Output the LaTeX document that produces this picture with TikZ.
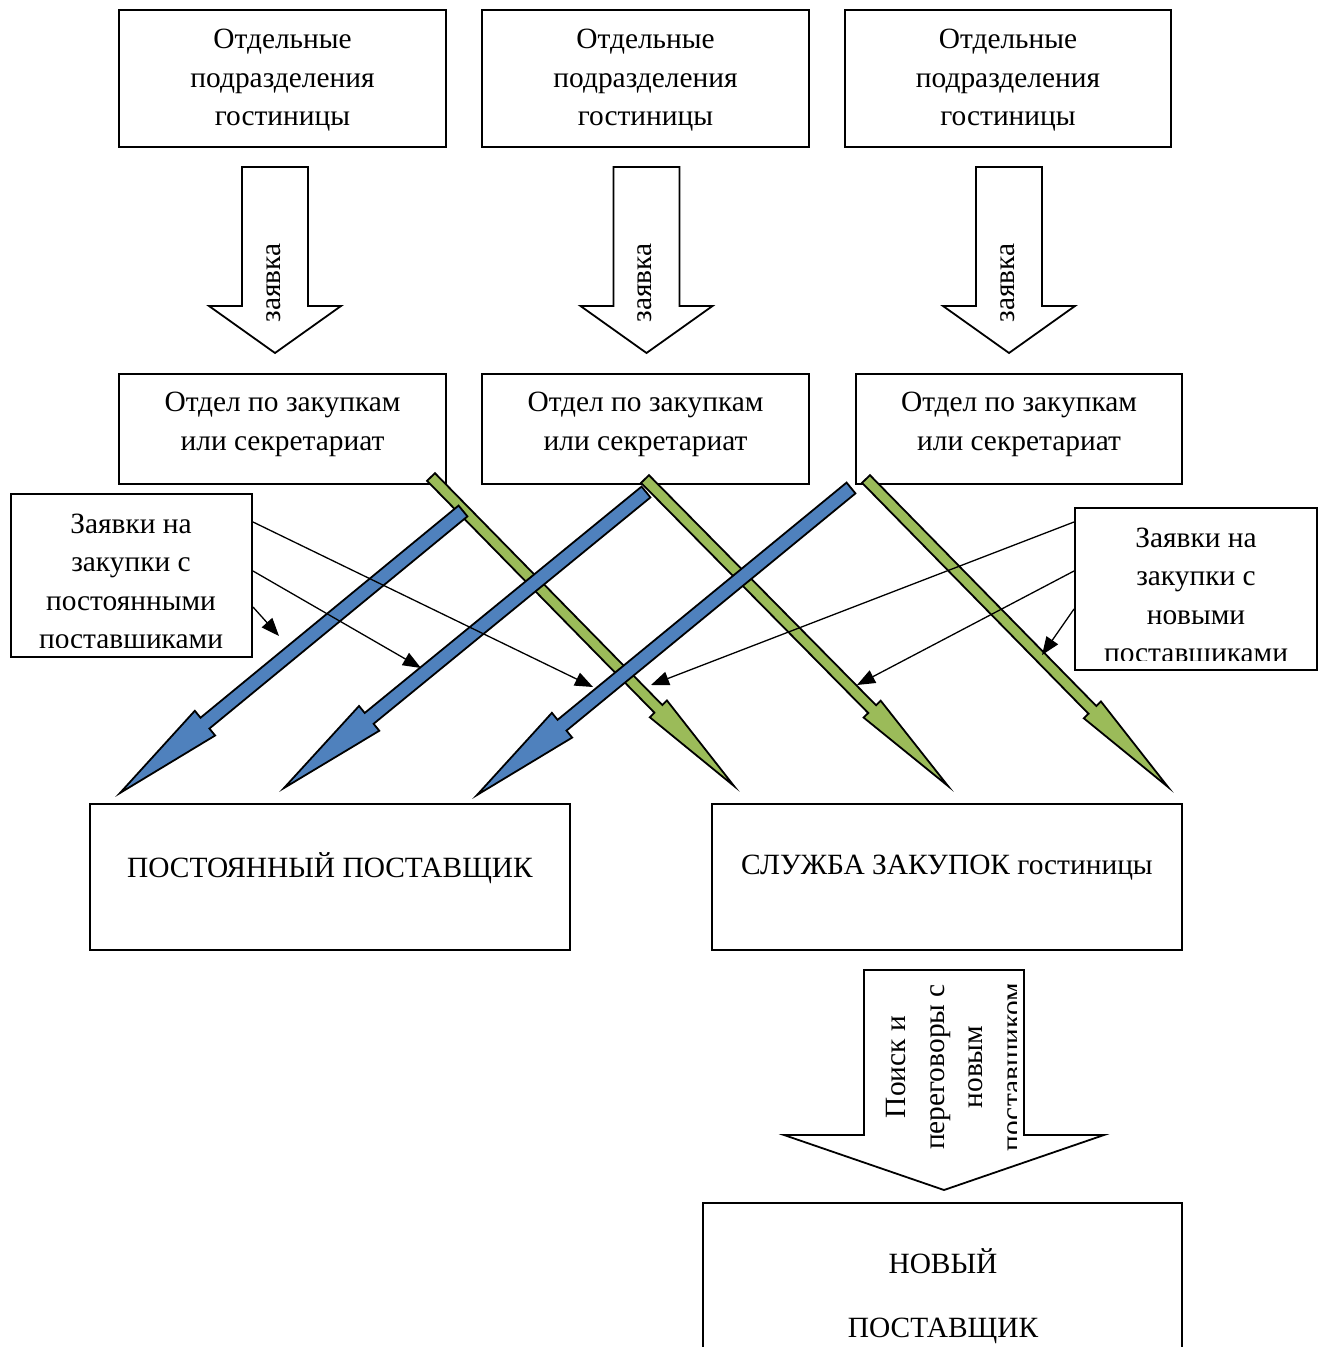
\documentclass[tikz,border=0pt]{standalone}
\usepackage{fontspec}
\setmainfont{Liberation Serif}
\usetikzlibrary{calc,arrows.meta}

\definecolor{arrblue}{HTML}{4F81BD}
\definecolor{arrgreen}{HTML}{9BBB59}

% block arrow: [style]{tail}{tip}{half shaft}{half head}{head length}
\newcommand{\blockarrow}[6][]{%
  \coordinate (hb) at ($(#3)!#6!(#2)$);
  \filldraw[#1] ($(#2)!#4!90:(#3)$) -- ($(hb)!#4!90:(#3)$) -- ($(hb)!#5!90:(#3)$) -- (#3)
    -- ($(hb)!#5!-90:(#3)$) -- ($(hb)!#4!-90:(#3)$) -- ($(#2)!#4!-90:(#3)$) -- cycle;
}

\begin{document}
\begin{tikzpicture}[x=0.5pt,y=-0.5pt]
	\tikzstyle{Box} = [draw, line width=1pt, inner sep=0pt]
	\tikzstyle{Txt} = [align=center, inner sep=0pt, font=\fontsize{14.7}{19.25}\selectfont]
	\tikzstyle{Down} = [draw=black, fill=white, line width=0.9pt]
	\tikzstyle{Blue} = [draw=black, fill=arrblue, line width=0.9pt]
	\tikzstyle{Green} = [draw=black, fill=arrgreen, line width=0.9pt]
	\tikzstyle{Thin} = [line width=0.65pt, -{Triangle[length=9pt,width=7pt]}]
	\useasboundingbox (0,0) rectangle (1322,1347);

	% boxes
	\node[Box, minimum width=163.5pt, minimum height=68.5pt] (top1) at (282.5,78.5) {};
	\node[Box, minimum width=163.5pt, minimum height=68.5pt] (top2) at (645.5,78.5) {};
	\node[Box, minimum width=163pt, minimum height=68.5pt] (top3) at (1008,78.5) {};
	\node[Box, minimum width=163.5pt, minimum height=55pt] (mid1) at (282.5,429) {};
	\node[Box, minimum width=163.5pt, minimum height=55pt] (mid2) at (645.5,429) {};
	\node[Box, minimum width=163pt, minimum height=55pt] (mid3) at (1019,429) {};
	\node[Box, minimum width=120.5pt, minimum height=81.5pt] (zl) at (131.5,575.5) {};
	\node[Box, minimum width=121pt, minimum height=81pt] (zr) at (1196,589) {};
	\node[Box, minimum width=240pt, minimum height=73pt] (const) at (330,877) {};
	\node[Box, minimum width=235pt, minimum height=73pt] (serv) at (947,877) {};
	\node[Box, minimum width=239.5pt, minimum height=81pt] (new) at (942.5,1284) {};

	% texts
	\node[Txt] (top1t) at (282.5,80.5) {Отдельные\\подразделения\\гостиницы};
	\node[Txt] (top2t) at (645.5,80.5) {Отдельные\\подразделения\\гостиницы};
	\node[Txt] (top3t) at (1008,80.5) {Отдельные\\подразделения\\гостиницы};
	\node[Txt] (mid1t) at (282.5,424.5) {Отдел по закупкам\\или секретариат};
	\node[Txt] (mid2t) at (645.5,424.5) {Отдел по закупкам\\или секретариат};
	\node[Txt] (mid3t) at (1019,424.5) {Отдел по закупкам\\или секретариат};
	\node[Txt] (constt) at (330,868) {ПОСТОЯННЫЙ ПОСТАВЩИК};
	\node[Txt] (servt) at (947,868) {СЛУЖБА ЗАКУПОК гостиницы};
	\node[Txt] (newt) at (943,1296) {НОВЫЙ\\[13pt]ПОСТАВЩИК};
	\begin{scope}
		\clip (13,496) rectangle (250,647);
		\node[Txt] (zlt) at (131,584.5) {Заявки на\\закупки с\\постоянными\\поставщиками};
	\end{scope}
	\begin{scope}
		\clip (1077,510) rectangle (1315,660);
		\node[Txt] (zrt) at (1196,598.5) {Заявки на\\закупки с\\новыми\\поставщиками};
	\end{scope}

	% "заявка" arrows
	\coordinate (d1a) at (275,167);  \coordinate (d1b) at (275,353);
	\coordinate (d2a) at (646.5,167);  \coordinate (d2b) at (646.5,353);
	\coordinate (d3a) at (1009,167); \coordinate (d3b) at (1009,353);
	\blockarrow[Down]{d1a}{d1b}{16.5pt}{33pt}{23.5pt}
	\blockarrow[Down]{d2a}{d2b}{16.5pt}{33pt}{23.5pt}
	\blockarrow[Down]{d3a}{d3b}{16.5pt}{33pt}{23.5pt}
	\node[Txt, rotate=90] (req1) at (274,283) {заявка};
	\node[Txt, rotate=90] (req2) at (645,283) {заявка};
	\node[Txt, rotate=90] (req3) at (1008,283) {заявка};

	% search arrow
	\coordinate (sa) at (944,970); \coordinate (sb) at (944,1190);
	\blockarrow[Down]{sa}{sb}{40pt}{80pt}{27.5pt}
	\begin{scope}
		\clip (866,984) rectangle (1016,1150);
		\node[Txt, rotate=90] (search) at (957,1067) {Поиск и\\переговоры с\\новым\\поставщиком};
	\end{scope}

	% green arrows
	\coordinate (g1a) at (431,477); \coordinate (g1b) at (734,786);
	\coordinate (g2a) at (645,479); \coordinate (g2b) at (948,786);
	\coordinate (g3a) at (866,479); \coordinate (g3b) at (1168,787);
	\blockarrow[Green]{g1a}{g1b}{2.75pt}{6pt}{54pt}
	\blockarrow[Green]{g2a}{g2b}{2.75pt}{6pt}{54pt}
	\blockarrow[Green]{g3a}{g3b}{2.75pt}{6pt}{54pt}

	% blue arrows
	\coordinate (b1a) at (463,511); \coordinate (b1b) at (120,793);
	\coordinate (b2a) at (646,492); \coordinate (b2b) at (284,788);
	\coordinate (b3a) at (851,488); \coordinate (b3b) at (477,795);
	\blockarrow[Blue]{b1a}{b1b}{3.5pt}{8pt}{55pt}
	\blockarrow[Blue]{b2a}{b2b}{3.5pt}{8pt}{55pt}
	\blockarrow[Blue]{b3a}{b3b}{3.5pt}{8pt}{55pt}

	% thin arrows
	\coordinate (l1) at (593,687); \coordinate (l2) at (421,668); \coordinate (l3) at (279,636);
	\coordinate (r1) at (651,685); \coordinate (r2) at (857,685); \coordinate (r3) at (1042,655);
	\draw[Thin] ([yshift=-14.5pt]zl.north east) -- (l1);
	\draw[Thin] ([yshift=-39pt]zl.north east) -- (l2);
	\draw[Thin] ([yshift=-57pt]zl.north east) -- (l3);
	\draw[Thin] ([yshift=-7.5pt]zr.north west) -- (r1);
	\draw[Thin] ([yshift=-32pt]zr.north west) -- (r2);
	\draw[Thin] ([yshift=-51pt]zr.north west) -- (r3);
\end{tikzpicture}
\end{document}
